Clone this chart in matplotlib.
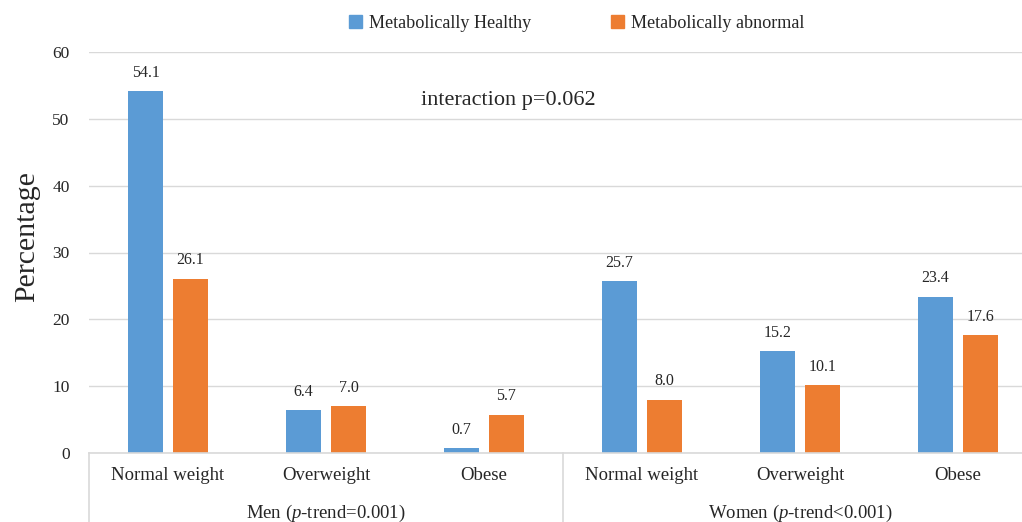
import matplotlib.pyplot as plt
from matplotlib.transforms import blended_transform_factory
from matplotlib.patches import Patch
import numpy as np

# Percentages by sex and BMI category
categories = ['Normal weight', 'Overweight', 'Obese']
groups = ['Men ($\\it{p}$-trend=0.001)', 'Women ($\\it{p}$-trend<0.001)']
healthy = [54.1, 6.4, 0.7, 25.7, 15.2, 23.4]
abnormal = [26.1, 7.0, 5.7, 8.0, 10.1, 17.6]
series_names = ['Metabolically Healthy', 'Metabolically abnormal']

plt.rcParams['font.family'] = ['Liberation Serif', 'DejaVu Serif']
plt.rcParams['mathtext.fontset'] = 'custom'
plt.rcParams['mathtext.it'] = 'Liberation Serif:italic'
plt.rcParams['mathtext.rm'] = 'Liberation Serif'

col_h = '#5B9BD5'
col_a = '#ED7D31'
txt = '#262626'
grid = '#D9D9D9'

fig = plt.figure(figsize=(10.22, 5.22), dpi=100)
# axes run off the right edge, as in the original crop
ax = fig.add_axes([89 / 1022, 69 / 522, 948 / 1022, 401 / 522])

x = np.arange(len(healthy))
w = 0.222
off = 0.1424
ax.bar(x - off, healthy, w, color=col_h, zorder=2)
ax.bar(x + off, abnormal, w, color=col_a, zorder=2)

for xi, v in zip(x, healthy):
    ax.text(xi - off, v + 1.6, f'{v:.1f}', ha='center', va='bottom', fontsize=11.5, color=txt)
for xi, v in zip(x, abnormal):
    ax.text(xi + off, v + 1.6, f'{v:.1f}', ha='center', va='bottom', fontsize=11.5, color=txt)

ax.set_xlim(-0.5, 5.5)
ax.set_ylim(0, 60)
ax.set_yticks(range(0, 61, 10))
ax.yaxis.grid(True, color=grid, linewidth=1, zorder=0)
ax.set_axisbelow(True)
for s in ['top', 'right', 'left']:
    ax.spines[s].set_visible(False)
ax.spines['bottom'].set_color(grid)
ax.spines['bottom'].set_linewidth(1.2)
ax.tick_params(axis='y', length=0, labelsize=12.5, labelcolor=txt, pad=14)
ax.tick_params(axis='x', length=0, labelsize=13.5, labelcolor=txt, pad=10)
ax.set_xticks(x)
ax.set_xticklabels(categories * 2)

ax.set_ylabel('Percentage', fontsize=21.5, color=txt)
ax.yaxis.set_label_coords(-0.052, 0.539)

# group labels and separators below the axis
tr = blended_transform_factory(ax.transData, ax.transAxes)
for i, g in enumerate(groups):
    ax.text(1 + 3 * i, -0.15, g, transform=tr, ha='center', va='center',
            fontsize=13.5, color=txt)
for xs in [-0.5, 2.5, 5.5]:
    ax.plot([xs, xs], [0, -0.25], transform=tr, color=grid, linewidth=1.2, clip_on=False)

ax.text(2.152, 52.7, 'interaction p=0.062', ha='center', va='center', fontsize=16, color=txt)

handles = [Patch(color=col_h), Patch(color=col_a)]
fig.legend(handles, series_names, loc='center', bbox_to_anchor=(577 / 1022, 1 - 23 / 522),
           ncol=2, frameon=False, fontsize=13.1, handlelength=0.7, handleheight=0.7,
           handletextpad=0.4, columnspacing=4.4, labelcolor=txt)

fig.savefig('out.png', dpi=100)
